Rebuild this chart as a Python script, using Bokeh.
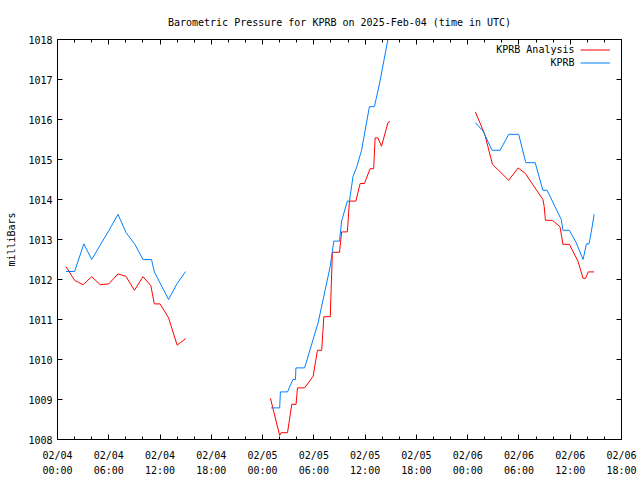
import numpy as np
import pandas as pd
from bokeh.plotting import figure
from bokeh.models import (DatetimeTickFormatter, FixedTicker, LinearAxis, DatetimeAxis,
                          Legend, LegendItem, Label, Range1d, ColumnDataSource, Title,
                          CustomJSTickFormatter)
from bokeh.embed import file_html
from bokeh.resources import INLINE

FONT = "DejaVu Sans Mono"

# ---------------- data ----------------
analysis_times_1 = ["2025-02-04 01:00", "2025-02-04 02:00", "2025-02-04 03:00", "2025-02-04 04:00",
                    "2025-02-04 05:00", "2025-02-04 06:00", "2025-02-04 07:05", "2025-02-04 08:00",
                    "2025-02-04 09:00", "2025-02-04 10:00", "2025-02-04 10:55", "2025-02-04 11:20",
                    "2025-02-04 12:00", "2025-02-04 13:00", "2025-02-04 14:00", "2025-02-04 15:00"]
analysis_mbar_1 = [1012.32, 1011.98, 1011.87, 1012.07, 1011.87, 1011.89, 1012.14, 1012.08,
                   1011.73, 1012.07, 1011.85, 1011.39, 1011.39, 1011.04, 1010.36, 1010.52]

analysis_times_2 = ["2025-02-05 00:55", "2025-02-05 02:00", "2025-02-05 02:10", "2025-02-05 02:55",
                    "2025-02-05 03:25", "2025-02-05 03:55", "2025-02-05 04:05", "2025-02-05 04:55",
                    "2025-02-05 05:55", "2025-02-05 06:25", "2025-02-05 06:55", "2025-02-05 07:10",
                    "2025-02-05 07:55", "2025-02-05 08:10", "2025-02-05 09:00", "2025-02-05 09:15",
                    "2025-02-05 09:55", "2025-02-05 10:10", "2025-02-05 10:55", "2025-02-05 11:25",
                    "2025-02-05 11:55", "2025-02-05 12:35", "2025-02-05 13:00", "2025-02-05 13:10",
                    "2025-02-05 13:30", "2025-02-05 13:55", "2025-02-05 14:40", "2025-02-05 14:55"]
analysis_mbar_2 = [1009.03, 1008.10, 1008.17, 1008.17, 1008.88, 1008.88, 1009.29, 1009.29,
                   1009.58, 1010.23, 1010.23, 1011.07, 1011.07, 1012.68, 1012.68, 1013.19,
                   1013.19, 1013.96, 1013.96, 1014.40, 1014.40, 1014.77, 1014.77, 1015.54,
                   1015.54, 1015.33, 1015.92, 1015.95]

analysis_times_3 = ["2025-02-06 00:54", "2025-02-06 02:00", "2025-02-06 02:54", "2025-02-06 04:48",
                    "2025-02-06 05:54", "2025-02-06 06:45", "2025-02-06 08:48", "2025-02-06 08:57",
                    "2025-02-06 09:06", "2025-02-06 09:54", "2025-02-06 10:48", "2025-02-06 11:09",
                    "2025-02-06 11:54", "2025-02-06 12:54", "2025-02-06 13:30", "2025-02-06 13:48",
                    "2025-02-06 14:06", "2025-02-06 14:48"]
analysis_mbar_3 = [1016.19, 1015.63, 1014.88, 1014.48, 1014.79, 1014.65, 1014.00, 1013.83,
                   1013.48, 1013.48, 1013.32, 1012.88, 1012.88, 1012.46, 1012.03, 1012.03,
                   1012.19, 1012.19]

obs_times_1 = ["2025-02-04 01:00", "2025-02-04 02:00", "2025-02-04 03:05", "2025-02-04 04:00",
               "2025-02-04 05:00", "2025-02-04 06:00", "2025-02-04 07:05", "2025-02-04 08:00",
               "2025-02-04 09:05", "2025-02-04 10:00", "2025-02-04 11:00", "2025-02-04 11:20",
               "2025-02-04 13:00", "2025-02-04 14:00", "2025-02-04 15:00"]
obs_mbar_1 = [1012.20, 1012.20, 1012.89, 1012.50, 1012.86, 1013.22, 1013.63, 1013.18,
              1012.87, 1012.50, 1012.50, 1012.19, 1011.50, 1011.90, 1012.20]

obs_times_2 = ["2025-02-05 01:00", "2025-02-05 02:00", "2025-02-05 02:05", "2025-02-05 02:55",
               "2025-02-05 03:33", "2025-02-05 03:51", "2025-02-05 03:54", "2025-02-05 04:55",
               "2025-02-05 06:30", "2025-02-05 07:55", "2025-02-05 08:20", "2025-02-05 09:00",
               "2025-02-05 09:15", "2025-02-05 09:55", "2025-02-05 10:10", "2025-02-05 10:35",
               "2025-02-05 11:00", "2025-02-05 11:35", "2025-02-05 12:30", "2025-02-05 13:05",
               "2025-02-05 13:40", "2025-02-05 14:40", "2025-02-05 15:00"]
obs_mbar_2 = [1008.79, 1008.79, 1009.19, 1009.19, 1009.50, 1009.50, 1009.79, 1009.79,
              1010.92, 1012.33, 1012.96, 1012.96, 1013.46, 1013.96, 1013.96, 1014.58,
              1014.80, 1015.23, 1016.32, 1016.32, 1016.88, 1018.00, 1018.40]

obs_times_3 = ["2025-02-06 00:54", "2025-02-06 01:48", "2025-02-06 02:51", "2025-02-06 03:48",
               "2025-02-06 04:48", "2025-02-06 05:58", "2025-02-06 06:48", "2025-02-06 07:54",
               "2025-02-06 08:48", "2025-02-06 09:18", "2025-02-06 10:12", "2025-02-06 10:57",
               "2025-02-06 11:09", "2025-02-06 11:54", "2025-02-06 12:42", "2025-02-06 13:30",
               "2025-02-06 13:54", "2025-02-06 14:12", "2025-02-06 14:27", "2025-02-06 14:48"]
obs_mbar_3 = [1015.92, 1015.71, 1015.23, 1015.23, 1015.63, 1015.63, 1014.92, 1014.92,
              1014.23, 1014.23, 1013.83, 1013.50, 1013.23, 1013.23, 1012.92, 1012.50,
              1012.89, 1012.89, 1013.17, 1013.63]

x_start = "2025-02-04 00:00"
x_end = "2025-02-06 18:00"
y_ticks = [1008, 1009, 1010, 1011, 1012, 1013, 1014, 1015, 1016, 1017, 1018]

series_names = ["KPRB Analysis", "KPRB"]
series_colors = ["#ff0000", "#0080ff"]


def join(times_list, vals_list):
    xs, ys = [], []
    for i, (t, v) in enumerate(zip(times_list, vals_list)):
        if i > 0:
            xs.append(pd.Timestamp(t[0]))
            ys.append(np.nan)
        xs.extend(pd.to_datetime(t))
        ys.extend(v)
    return ColumnDataSource(dict(x=xs, y=ys))


src_analysis = join([analysis_times_1, analysis_times_2, analysis_times_3],
                    [analysis_mbar_1, analysis_mbar_2, analysis_mbar_3])
src_obs = join([obs_times_1, obs_times_2, obs_times_3],
               [obs_mbar_1, obs_mbar_2, obs_mbar_3])

x0 = pd.Timestamp(x_start)
x1 = pd.Timestamp(x_end)

p = figure(frame_width=564, frame_height=400,
           min_border_left=57, min_border_right=19, min_border_top=39, min_border_bottom=41,
           x_axis_type=None, y_axis_type=None,
           x_range=Range1d(x0, x1), y_range=Range1d(1008, 1018),
           output_backend="svg", toolbar_location=None)
p.xgrid.visible = False
p.ygrid.visible = False
p.outline_line_color = "black"
p.outline_line_width = 1
p.background_fill_color = "white"
p.border_fill_color = "white"

ms = lambda ts: ts.value / 1e6
major_x = [ms(t) for t in pd.date_range(x0, x1, freq="6h")]
minor_x = [ms(t) for t in pd.date_range(x0, x1, freq="2h")]
xticker = FixedTicker(ticks=major_x, minor_ticks=minor_x)
fmt = "%m/%d\n%H:%M"
xfmt = DatetimeTickFormatter(microseconds=fmt, milliseconds=fmt, seconds=fmt, minsec=fmt,
                             minutes=fmt, hourmin=fmt, hours=fmt, days=fmt, months=fmt, years=fmt)
yticker = FixedTicker(ticks=y_ticks, minor_ticks=[])
blank = CustomJSTickFormatter(code="return '';")


def style(ax, labels=True):
    ax.major_tick_in = 5
    ax.major_tick_out = 0
    ax.minor_tick_in = 3
    ax.minor_tick_out = 0
    ax.axis_line_color = "black"
    ax.major_tick_line_color = "black"
    ax.minor_tick_line_color = "black"
    ax.major_label_text_font = FONT
    ax.major_label_text_font_size = "10px"
    ax.major_label_text_color = "black"
    if not labels:
        ax.major_label_standoff = 0


xb = DatetimeAxis(ticker=xticker, formatter=xfmt)
style(xb)
xb.major_label_standoff = 10
xb.major_label_text_line_height = 1.4
p.add_layout(xb, "below")

xt = LinearAxis(ticker=xticker, formatter=blank)
style(xt, labels=False)
p.add_layout(xt, "above")

yl = LinearAxis(ticker=yticker, axis_label="milliBars")
style(yl)
yl.major_label_standoff = 5
yl.axis_label_text_font = FONT
yl.axis_label_text_font_size = "10px"
yl.axis_label_text_font_style = "normal"
yl.axis_label_text_color = "black"
yl.axis_label_standoff = 8
p.add_layout(yl, "left")

yr = LinearAxis(ticker=yticker, formatter=blank)
style(yr, labels=False)
p.add_layout(yr, "right")

p.add_layout(Title(text="Barometric Pressure for KPRB on 2025-Feb-04 (time in UTC)",
                   text_font=FONT, text_font_size="10px", text_font_style="normal",
                   text_color="black", align="center", standoff=23), "above")

r_an = p.line("x", "y", source=src_analysis, color=series_colors[0], line_width=1)
r_ob = p.line("x", "y", source=src_obs, color=series_colors[1], line_width=1)

legend = Legend(items=[LegendItem(label=" ", renderers=[r_an]),
                       LegendItem(label=" ", renderers=[r_ob])],
                location=(523, 370), glyph_width=30, glyph_height=13, label_height=13,
                label_width=0, label_standoff=0, padding=0, spacing=0, margin=0,
                border_line_color=None, background_fill_alpha=0,
                label_text_font_size="10px")
p.add_layout(legend, "center")

for name, ypos in zip(series_names, [390.0, 377.0]):
    p.add_layout(Label(x=517, y=ypos, x_units="screen", y_units="screen", text=name,
                       text_align="right", text_baseline="middle",
                       text_font=FONT, text_font_size="10px", text_color="black"))

open("out.html", "w").write(file_html(p, INLINE))
